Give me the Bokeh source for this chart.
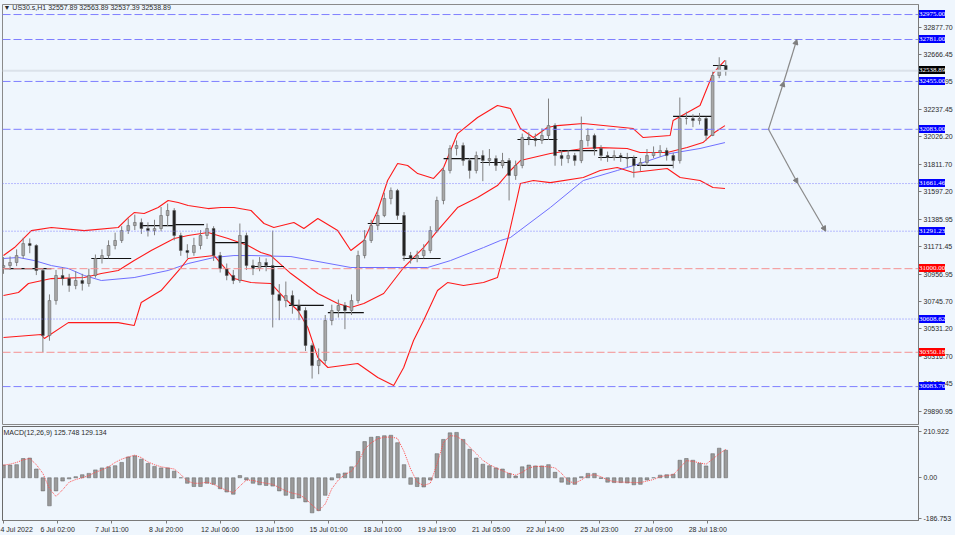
from bokeh.plotting import figure
from bokeh.models import (Range1d, FixedTicker, NumeralTickFormatter, CustomJSTickFormatter,
                          Label, Arrow, NormalHead, Span, ColumnDataSource)
from bokeh.models import HTMLLabelSet
from bokeh.layouts import column
from bokeh.embed import file_html
from bokeh.resources import INLINE

# ---------------- data ----------------
# candle index (one candle = 4 H1 bars), position in H1 bars
bar_x = list(range(0, 444, 4))

open_ = [31010, 31024, 31048, 31102, 31195, 31180, 30986, 30480, 30752, 30947,
         30923, 30869, 30908, 30885, 30947, 31079, 31102, 31180, 31219, 31296,
         31335, 31359, 31312, 31296, 31312, 31413, 31452, 31258, 31141, 31125,
         31180, 31258, 31312, 31102, 31001, 30947, 30908, 31258, 31024, 31001,
         31048, 31024, 30800, 30752, 30791, 30714, 30675, 30403, 30247, 30286,
         30597, 30675, 30714, 30675, 30752, 31102, 31219, 31335, 31413, 31545,
         31607, 31413, 31102, 31079, 31102, 31141, 31296, 31530, 31763, 31934,
         31957, 31840, 31763, 31879, 31840, 31856, 31802, 31840, 31724, 31802,
         32019, 32011, 31996, 32035, 32112, 31879, 31856, 31879, 31840, 31996,
         32035, 31934, 31879, 31864, 31879, 31864, 31856, 31802, 31825, 31879,
         31903, 31918, 31879, 31840, 32167, 32167, 32151, 32167, 32035, 32501,
         32579]
close = [31024, 31048, 31102, 31195, 31180, 30986, 30480, 30752, 30947, 30923,
         30869, 30908, 30885, 30947, 31079, 31102, 31180, 31219, 31296, 31335,
         31359, 31312, 31296, 31312, 31413, 31452, 31258, 31141, 31125, 31180,
         31258, 31312, 31102, 31001, 30947, 30908, 31258, 31024, 31001, 31048,
         31024, 30800, 30752, 30791, 30714, 30675, 30403, 30247, 30286, 30597,
         30675, 30714, 30675, 30752, 31102, 31219, 31335, 31413, 31545, 31607,
         31413, 31102, 31079, 31102, 31141, 31296, 31530, 31763, 31934, 31957,
         31840, 31763, 31879, 31840, 31856, 31802, 31840, 31724, 31802, 32019,
         32011, 31996, 32035, 32112, 31879, 31856, 31879, 31840, 31996, 32035,
         31934, 31879, 31864, 31879, 31864, 31856, 31802, 31825, 31879, 31903,
         31918, 31879, 31840, 32167, 32167, 32151, 32167, 32035, 32501, 32579,
         32538.89]
high = [31090, 31095, 31150, 31240, 31235, 31190, 31000, 30800, 30990, 31010,
        30960, 30980, 30960, 31000, 31110, 31150, 31220, 31280, 31330, 31390,
        31420, 31390, 31360, 31380, 31480, 31506, 31470, 31280, 31190, 31240,
        31300, 31351, 31330, 31130, 31040, 30990, 31351, 31280, 31070, 31090,
        31080, 31296, 30880, 30900, 30830, 30760, 30700, 30420, 30380, 30640,
        30720, 30760, 30740, 30800, 31140, 31300, 31380, 31460, 31590, 31631,
        31620, 31440, 31130, 31140, 31190, 31330, 31560, 31790, 31960, 31996,
        31980, 31860, 31910, 31920, 31930, 31880, 31900, 31860, 31840, 32050,
        32060, 32050, 32090, 32322, 32130, 31920, 31920, 31900, 32182, 32090,
        32050, 31960, 31910, 31920, 31900, 31900, 31880, 31860, 31930, 31950,
        31960, 31940, 31900, 32330, 32220, 32200, 32210, 32180, 32540, 32643,
        32620]
low = [30960, 30990, 31020, 31080, 31120, 30950, 30350, 30440, 30720, 30870,
       30820, 30840, 30830, 30860, 30930, 31040, 31080, 31150, 31200, 31270,
       31300, 31270, 31250, 31260, 31290, 31330, 31220, 31100, 31080, 31100,
       31150, 31230, 31060, 30970, 30910, 30880, 30890, 30990, 30950, 30980,
       30980, 30543, 30600, 30700, 30650, 30600, 30360, 30146, 30180, 30260,
       30560, 30620, 30530, 30640, 30730, 31080, 31200, 31300, 31400, 31500,
       31380, 31060, 31040, 31050, 31080, 31120, 31280, 31500, 31740, 31880,
       31800, 31700, 31740, 31680, 31800, 31760, 31780, 31530, 31690, 31780,
       31960, 31950, 31970, 32000, 31800, 31800, 31820, 31800, 31820, 31950,
       31880, 31840, 31830, 31840, 31830, 31790, 31708, 31760, 31800, 31860,
       31870, 31840, 31780, 31817, 32120, 32100, 32120, 31996, 32030, 32480,
       32500]

# Bollinger bands (bar position, price)
bb_up_x = [0, 6.7, 17, 29.2, 49.2, 69.9, 76, 79.6, 85.7, 94.2, 100.3, 106.4, 112.5, 124.6,
           132.5, 140.4, 150.8, 158.7, 164.7, 176.9, 183, 191.5, 203.6, 211.6, 219.5, 228,
           234, 240.1, 246.2, 252.3, 262, 268.1, 276.6, 288.8, 300.9, 308.8, 314.9, 322.8,
           331.3, 337.4, 353.2, 383.6, 389.7, 406.1, 407.9, 424.3, 432.2, 439.5]
bb_up = [31102, 31164, 31296, 31320, 31296, 31320, 31397, 31436, 31429, 31475, 31530, 31514,
         31491, 31467, 31475, 31475, 31452, 31351, 31320, 31359, 31312, 31390, 31296, 31141,
         31219, 31452, 31685, 31817, 31802, 31739, 31701, 31786, 32050, 32175, 32268, 32245,
         32089, 32019, 32097, 32112, 32128, 32089, 32019, 32035, 32151, 32268, 32517, 32618]
bb_mid_x = [0, 9.1, 15.2, 29.2, 49.2, 59.6, 69.9, 79.6, 90, 104, 112.5, 124.6, 136.8, 148.9,
            156.8, 162.9, 175.1, 191.5, 203.6, 211.6, 219.5, 231.6, 243.8, 255.9, 264.4,
            276.6, 288.8, 300.9, 308.8, 314.9, 333.1, 353.2, 363.5, 379.9, 387.8, 404.3,
            416.4, 426.1, 432.2, 439.5]
bb_mid = [30791, 30815, 30885, 30923, 30931, 30962, 30986, 31063, 31141, 31234, 31258, 31281,
          31234, 31180, 31125, 31102, 30962, 30807, 30729, 30698, 30729, 30807, 31009, 31164,
          31296, 31475, 31553, 31646, 31763, 31840, 31895, 31934, 31941, 31934, 31903, 31903,
          31941, 31980, 32050, 32112]
bb_low_x = [0, 23.1, 24.9, 39.5, 69.9, 79.6, 83.9, 96, 108.2, 112.5, 128.3, 140.4, 150.8,
            162.9, 170.8, 179.3, 185.4, 191.5, 197.6, 215.8, 228, 237.7, 243.8, 249.8, 255.9,
            264.4, 270.5, 280.2, 292.4, 300.9, 307, 311.9, 314.9, 322.8, 333.1, 353.2, 363.5,
            373.9, 383.6, 393.9, 404.3, 412.2, 424.3, 432.2, 439.5]
bb_low = [30465, 30488, 30457, 30581, 30581, 30558, 30737, 30830, 31009, 31079, 31102, 30923,
          30892, 30885, 30776, 30675, 30543, 30309, 30232, 30263, 30154, 30092, 30232, 30442,
          30597, 30830, 30892, 30869, 30892, 30931, 31219, 31491, 31662, 31685, 31669, 31708,
          31763, 31786, 31747, 31763, 31778, 31708, 31685, 31631, 31623]

# moving average (blue)
ma_x = [0, 9.1, 18.8, 29.2, 39.5, 49.2, 59.6, 79.6, 100.3, 112.5, 128.3, 140.4, 150.8, 175.1,
        211.6, 241.9, 258.4, 272.3, 292.4, 302.7, 308.8, 333.1, 353.2, 373.9, 387.8, 406.1,
        424.3, 439.5]
ma = [31079, 31087, 31063, 31024, 31001, 30947, 30908, 30931, 30986, 31040, 31087, 31102,
      31102, 31094, 31009, 31009, 31009, 31063, 31164, 31219, 31242, 31475, 31685, 31763,
      31817, 31895, 31934, 31980]

# daily open levels (black steps)
do_start = [0.6, 53.5, 83.9, 104.0, 128.3, 150.8, 173.9, 197.6, 221.9, 243.2, 268.1, 290.6,
            313.1, 338.0, 362.3, 386.0, 407.9, 432.2]
do_end = [29.2, 77.8, 104.0, 122.2, 147.7, 170.8, 195.1, 219.5, 243.2, 266.3, 290.6, 308.8,
          337.4, 361.7, 386.0, 407.9, 432.2, 439.5]
do_level = [31001, 31079, 31335, 31343, 31203, 31017, 30714, 30659, 31351, 31079, 31856,
            31825, 32004, 31918, 31864, 31802, 32183, 32579]

# projection arrows
arrow_x0 = [466, 475.4, 466, 483.9]
arrow_y0 = [32083, 32455, 32083, 31661.46]
arrow_x1 = [475.4, 483.3, 483.9, 500.9]
arrow_y1 = [32455, 32781, 31661.46, 31291.23]

# horizontal levels
blue_dashed = [32975.00, 32781.00, 32455.00, 32083.00, 30083.70]
blue_dotted = [31661.46, 31291.23, 30608.62]
red_dashed = [31000.00, 30350.18]
current_price = 32538.89

price_ticks = [32877.70, 32666.45, 32451.95, 32237.45, 32026.20, 31811.70, 31597.20,
               31385.95, 31171.45, 30956.95, 30745.70, 30531.20, 30316.70, 30105.45, 29890.95]

# MACD
macd_hist = [58, 58, 60, 88, 90, 40, -60, -128, -60, -15,
             -5, 5, 14, 20, 36, 45, 50, 55, 70, 95,
             100, 85, 65, 52, 45, 45, 30, 0, -25, -40,
             -40, -25, -30, -50, -65, -75, 10, -10, -25, -32,
             -35, -38, -60, -80, -95, -92, -110, -160, -150, -80,
             -10, 18, 22, 50, 120, 165, 185, 188, 192, 194,
             160, 60, -30, -40, -42, -10, 110, 175, 205, 207,
             175, 130, 90, 62, 55, 45, 40, 20, 8, 50,
             58, 54, 54, 60, 25, -20, -30, -30, 5, 20,
             20, -3, -20, -22, -22, -24, -32, -30, -10, 0,
             12, 14, 16, 80, 88, 80, 66, 54, 110, 135,
             125.748]
macd_signal = [58, 62, 70, 82, 88, 60, 20, -50, -85, -55,
               -20, -8, 0, 10, 25, 36, 50, 70, 85, 95,
               103, 92, 72, 60, 50, 45, 40, 15, -15, -25,
               -25, -20, -30, -45, -58, -68, -38, -10, -12, -20,
               -25, -30, -45, -60, -70, -76, -95, -125, -150, -120,
               -50, -10, 15, 30, 70, 130, 160, 178, 185, 186,
               180, 120, 40, -20, -35, -25, 60, 160, 192, 190,
               170, 140, 110, 80, 60, 45, 32, 20, 12, 25,
               45, 52, 52, 50, 45, 20, -15, -25, -10, 10,
               14, 5, -10, -18, -20, -20, -22, -22, -15, -8,
               5, 10, 14, 45, 78, 75, 68, 62, 85, 110,
               129.134]
macd_ticks = [210.922, 0.0, -186.753]

date_ticks = [0, 33, 66, 99, 132, 165, 198, 231, 264, 297, 330, 363, 396, 429]
date_labels = ["4 Jul 2022", "6 Jul 02:00", "7 Jul 11:00", "8 Jul 20:00", "12 Jul 06:00",
               "13 Jul 15:00", "15 Jul 01:00", "18 Jul 10:00", "19 Jul 19:00", "21 Jul 05:00",
               "22 Jul 14:00", "25 Jul 23:00", "27 Jul 09:00", "28 Jul 18:00"]

# ---------------- style ----------------
BG = "#eff6fd"
FONT = "Liberation Sans"
FS = "7px"
TXT = "#2b2b2b"

X_END = 557.4
xr = Range1d(-0.6, X_END)

p = figure(width=955, height=425, x_range=xr, y_range=Range1d(29789, 33053),
           output_backend="svg", toolbar_location=None, x_axis_location=None,
           y_axis_location="right", min_border_left=2, min_border_right=35,
           min_border_top=4, min_border_bottom=1, background_fill_color=BG,
           border_fill_color=BG, outline_line_color="#8a8a8a")
p.grid.visible = False
ax = p.yaxis[0]
ax.ticker = FixedTicker(ticks=price_ticks)
ax.formatter = NumeralTickFormatter(format="0.00")
ax.major_label_text_font = FONT
ax.major_label_text_font_size = FS
ax.major_label_text_color = TXT
ax.axis_line_color = "#7a7a7a"
ax.major_tick_line_color = "#7a7a7a"
ax.major_tick_out = 3
ax.major_tick_in = 0
ax.minor_tick_line_color = None
ax.major_label_standoff = 2

# horizontal levels
p.add_layout(Span(location=current_price, dimension="width", line_color="#dbe2ea", line_width=2))
for lv in blue_dashed:
    p.add_layout(Span(location=lv, dimension="width", line_color="#7f7fff",
                      line_dash="8 3", line_width=1))
for lv in blue_dotted:
    p.add_layout(Span(location=lv, dimension="width", line_color="#7f7fff",
                      line_dash="1 2", line_width=1))
for lv in red_dashed:
    p.add_layout(Span(location=lv, dimension="width", line_color="#f59090",
                      line_dash="8 3", line_width=1))

# indicators
p.line(ma_x, ma, line_color="#6f6fff", line_width=1)
p.line(bb_up_x, bb_up, line_color="#ff1a1a", line_width=1.1)
p.line(bb_mid_x, bb_mid, line_color="#ff1a1a", line_width=1.1)
p.line(bb_low_x, bb_low, line_color="#ff1a1a", line_width=1.1)
p.segment(x0=do_start, y0=do_level, x1=do_end, y1=do_level, line_color="#111111", line_width=1.2)

# candles
src = ColumnDataSource(dict(x=bar_x, o=open_, h=high, l=low, c=close,
                            col=["#a8a8a8" if c >= o else "#222222" for o, c in zip(open_, close)]))
p.segment(x0="x", y0="l", x1="x", y1="h", source=src, line_color="#808080", line_width=1)
p.vbar(x="x", width=1.7, top="o", bottom="c", source=src, fill_color="col",
       line_color="#5a5a5a", line_width=0.5)

# arrows
asrc = ColumnDataSource(dict(xs=arrow_x0, ys=arrow_y0, xe=arrow_x1, ye=arrow_y1))
p.add_layout(Arrow(end=NormalHead(size=5, fill_color="#7d7d7d", line_color="#7d7d7d"),
                   x_start="xs", y_start="ys", x_end="xe", y_end="ye", source=asrc,
                   line_color="#8a8a8a", line_width=1.2))

# title
p.add_layout(Label(x=0, y=33030, text="▼ US30.s,H1  32557.89 32563.89 32537.39 32538.89",
                   text_font=FONT, text_font_size=FS, text_color=TXT, text_baseline="middle"))

# price tags on the axis
tag_levels = blue_dashed + blue_dotted + red_dashed + [current_price]
tag_colors = (["#0000ff"] * (len(blue_dashed) + len(blue_dotted)) +
              ["#ff0000"] * len(red_dashed) + ["#000000"])
tsrc = ColumnDataSource(dict(x=[X_END] * len(tag_levels), y=tag_levels,
                             t=[f"{v:.2f}" for v in tag_levels], bg=tag_colors))
p.add_layout(HTMLLabelSet(x="x", y="y", text="t", source=tsrc, x_offset=1, text_font=FONT,
                          text_font_size=FS, text_color="white", text_baseline="middle",
                          text_align="left", background_fill_color="bg"))

# ---------------- MACD ----------------
m = figure(width=955, height=110, x_range=xr, y_range=Range1d(-195, 234),
           output_backend="svg", toolbar_location=None, y_axis_location="right",
           min_border_left=2, min_border_right=35, min_border_top=1,
           background_fill_color=BG, border_fill_color=BG, outline_line_color="#6a6a6a")
m.grid.visible = False
m.vbar(x=bar_x, width=2.2, top=macd_hist, bottom=0, fill_color="#9a9a9a",
       line_color="#5e5e5e", line_width=0.5)
m.line(bar_x, macd_signal, line_color="#ff4d4d", line_dash="1 1", line_width=1)
m.add_layout(Label(x=0, y=205, text="MACD(12,26,9) 125.748 129.134", text_font=FONT,
                   text_font_size=FS, text_color=TXT, text_baseline="middle"))

my = m.yaxis[0]
my.ticker = FixedTicker(ticks=macd_ticks)
my.formatter = CustomJSTickFormatter(code="return tick == 0 ? '0.00' : String(tick);")
mx = m.xaxis[0]
mx.ticker = FixedTicker(ticks=date_ticks)
mx.major_label_overrides = {t: s for t, s in zip(date_ticks, date_labels)}
mx.major_label_text_align = "left"
for a in (my, mx):
    a.major_label_text_font = FONT
    a.major_label_text_font_size = FS
    a.major_label_text_color = TXT
    a.axis_line_color = "#7a7a7a"
    a.major_tick_line_color = "#7a7a7a"
    a.major_tick_out = 3
    a.major_tick_in = 0
    a.minor_tick_line_color = None
    a.major_label_standoff = 2

layout = column(p, m, spacing=0, background=BG)
open("out.html", "w").write(file_html(layout, INLINE))
